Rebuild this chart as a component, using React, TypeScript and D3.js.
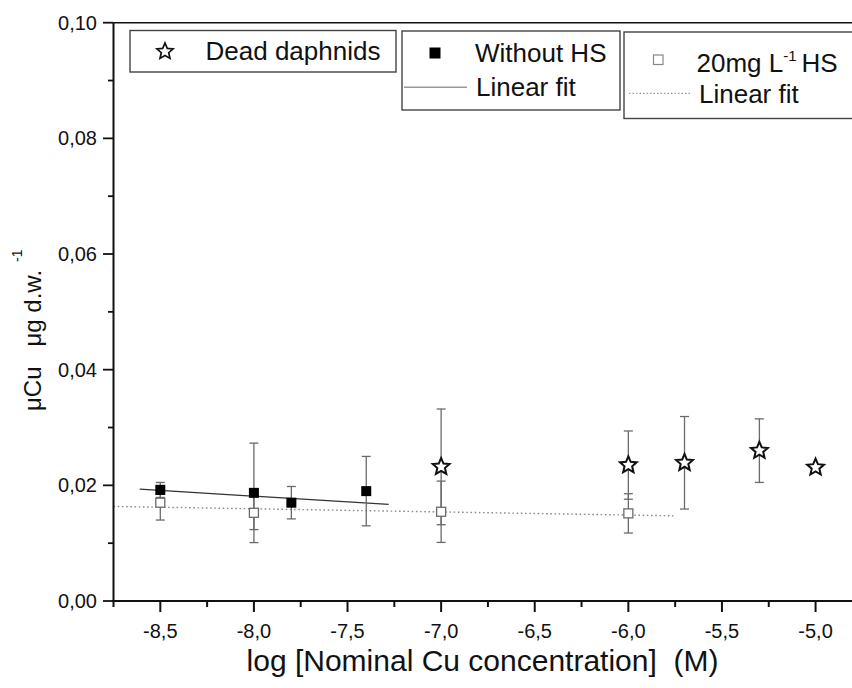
import React from "react";
import * as d3 from "d3";

const deadX = [-7.0, -6.0, -5.7, -5.3, -5.0];
const deadY = [0.0232, 0.0235, 0.0239, 0.026, 0.0231];
const deadErr = [0.01, 0.0059, 0.008, 0.0055, 0];

const withoutX = [-8.5, -8.0, -7.8, -7.4];
const withoutY = [0.0192, 0.0187, 0.017, 0.019];
const withoutErr = [0.0013, 0.0086, 0.0028, 0.006];

const hsX = [-8.5, -8.0, -7.0, -6.0];
const hsY = [0.017, 0.01525, 0.01543, 0.01515];
const hsErr = [0.003, 0.0029, 0.0053, 0.0034];

const fitWithoutX = [-8.61, -7.28];
const fitWithoutY = [0.01934, 0.0167];
const fitHsX = [-8.75, -5.76];
const fitHsY = [0.01635, 0.01473];

const xMajorTicks = [-8.5, -8.0, -7.5, -7.0, -6.5, -6.0, -5.5, -5.0];
const yMajorTicks = [0, 0.02, 0.04, 0.06, 0.08, 0.1];

const W = 852;
const H = 688;
const FONT = "'Liberation Sans', Arial, sans-serif";

function starPath(cx: number, cy: number, ro: number, ri: number) {
  const pts: [number, number][] = [];
  for (let i = 0; i < 10; i++) {
    const r = i % 2 === 0 ? ro : ri;
    const a = -Math.PI / 2 + (i * Math.PI) / 5;
    pts.push([cx + r * Math.cos(a), cy + r * Math.sin(a)]);
  }
  return "M" + pts.map((p) => p.join(",")).join("L") + "Z";
}

export default function App() {
  const x = d3.scaleLinear().domain([-8.75, -4.8]).range([113.5, 853]);
  const y = d3.scaleLinear().domain([0, 0.1]).range([601, 22.7]);
  const xMinor = d3.range(-8.75, -4.79, 0.25).filter(
    (v) => !xMajorTicks.some((m) => Math.abs(m - v) < 1e-6)
  );
  const yMinor = d3.range(0.01, 0.1, 0.02);
  const fmt = (v: number, d: number) => v.toFixed(d).replace(".", ",");
  const line = d3
    .line<[number, number]>()
    .x((d) => x(d[0]))
    .y((d) => y(d[1]));

  const errBar = (xs: number[], ys: number[], es: number[], key: string) =>
    xs.map((xv, i) => {
      if (!es[i]) return null;
      const cx = x(xv);
      const t = y(ys[i] + es[i]);
      const b = y(ys[i] - es[i]);
      return (
        <g key={key + i} stroke="#6a6a6a" strokeWidth={1.3}>
          <line x1={cx} x2={cx} y1={t} y2={b} />
          <line x1={cx - 4.5} x2={cx + 4.5} y1={t} y2={t} />
          <line x1={cx - 4.5} x2={cx + 4.5} y1={b} y2={b} />
        </g>
      );
    });

  return (
    <svg
      width={W}
      height={H}
      style={{ position: "absolute", left: 0, top: 0, background: "#fff" }}
      fontFamily={FONT}
    >
      <rect x={0} y={0} width={W} height={H} fill="#fff" />

      {/* fit lines */}
      <path
        d={line(fitHsX.map((v, i) => [v, fitHsY[i]]) as [number, number][]) || ""}
        fill="none"
        stroke="#8a8a8a"
        strokeWidth={1.4}
        strokeDasharray="1.6,2.6"
      />
      <path
        d={line(fitWithoutX.map((v, i) => [v, fitWithoutY[i]]) as [number, number][]) || ""}
        fill="none"
        stroke="#333"
        strokeWidth={1.3}
      />

      {/* error bars */}
      {errBar(hsX, hsY, hsErr, "h")}
      {errBar(withoutX, withoutY, withoutErr, "w")}
      {errBar(deadX, deadY, deadErr, "d")}

      {/* markers */}
      {hsX.map((xv, i) => (
        <rect
          key={"hs" + i}
          x={x(xv) - 4.5}
          y={y(hsY[i]) - 4.5}
          width={9}
          height={9}
          fill="#fff"
          stroke="#6a6a6a"
          strokeWidth={1.3}
        />
      ))}
      {withoutX.map((xv, i) => (
        <rect
          key={"wo" + i}
          x={x(xv) - 5}
          y={y(withoutY[i]) - 5}
          width={10}
          height={10}
          fill="#000"
        />
      ))}
      {deadX.map((xv, i) => (
        <path
          key={"st" + i}
          d={starPath(x(xv), y(deadY[i]), 8.8, 4)}
          fill="#fff"
          stroke="#111"
          strokeWidth={2}
          strokeLinejoin="miter"
        />
      ))}

      {/* axes */}
      <line x1={113.5} x2={W} y1={y(0.1)} y2={y(0.1)} stroke="#111" strokeWidth={1.6} />
      <line x1={113.5} x2={113.5} y1={y(0.1)} y2={601} stroke="#111" strokeWidth={2} />
      <line x1={112.5} x2={W} y1={601} y2={601} stroke="#111" strokeWidth={2} />
      {xMajorTicks.map((t) => (
        <g key={"xt" + t}>
          <line x1={x(t)} x2={x(t)} y1={601} y2={612} stroke="#111" strokeWidth={2} />
          <text x={x(t)} y={638} textAnchor="middle" fontSize={20} fill="#111">
            {fmt(t, 1)}
          </text>
        </g>
      ))}
      {xMinor.map((t) => (
        <line key={"xm" + t} x1={x(t)} x2={x(t)} y1={601} y2={607} stroke="#111" strokeWidth={2} />
      ))}
      {yMajorTicks.map((t) => (
        <g key={"yt" + t}>
          <line x1={103} x2={113.5} y1={y(t)} y2={y(t)} stroke="#111" strokeWidth={1.8} />
          <text x={97} y={y(t) + 7} textAnchor="end" fontSize={20} fill="#111">
            {fmt(t, 2)}
          </text>
        </g>
      ))}
      {yMinor.map((t) => (
        <line key={"ym" + t} x1={108} x2={113.5} y1={y(t)} y2={y(t)} stroke="#111" strokeWidth={1.8} />
      ))}

      {/* axis titles */}
      <text
        x={482.5}
        y={671}
        textAnchor="middle"
        fontSize={30}
        fill="#111"
        style={{ whiteSpace: "pre" }}
      >
        {"log [Nominal Cu concentration]  (M)"}
      </text>
      <g transform="translate(41,411) rotate(-90)">
        <text x={0} y={0} fontSize={24} fill="#111" style={{ whiteSpace: "pre" }}>
          {"μCu   μg d.w."}
          <tspan dx={8} dy={-19} fontSize={14}>-1</tspan>
        </text>
      </g>

      {/* legends */}
      <rect x={130} y={30.5} width={266} height={41.5} fill="#fff" stroke="#444" strokeWidth={1.4} />
      <path d={starPath(165, 51.5, 8.5, 3.9)} fill="#fff" stroke="#111" strokeWidth={1.7} />
      <text x={205.5} y={60} fontSize={26} fill="#111">Dead daphnids</text>

      <rect x={402} y={31} width={218} height={79} fill="#fff" stroke="#444" strokeWidth={1.4} />
      <rect x={429.5} y={47.5} width={11} height={11} fill="#000" />
      <text x={475} y={61.5} fontSize={26} fill="#111">Without HS</text>
      <line x1={404} x2={467} y1={87.3} y2={87.3} stroke="#999" strokeWidth={1.4} />
      <text x={476} y={96} fontSize={26} fill="#111">Linear fit</text>

      <rect x={624} y={32} width={260} height={86.5} fill="#fff" stroke="#444" strokeWidth={1.4} />
      <rect x={653.5} y={55} width={9.5} height={9.5} fill="#fff" stroke="#888" strokeWidth={1.2} />
      <text x={696.5} y={71.5} fontSize={26} fill="#111">
        20mg L
        <tspan dy={-11} fontSize={15}>-1</tspan>
        <tspan dy={11} dx={5}>HS</tspan>
      </text>
      <line x1={629} x2={690} y1={93.3} y2={93.3} stroke="#999" strokeWidth={1.3} strokeDasharray="1.5,2" />
      <text x={699} y={102.5} fontSize={26} fill="#111">Linear fit</text>
    </svg>
  );
}
